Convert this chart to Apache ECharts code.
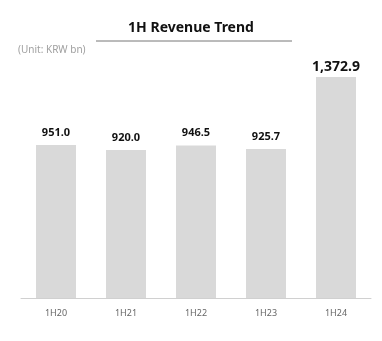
<!DOCTYPE html>
<html><head><meta charset="utf-8">
<script src="https://cdn.jsdelivr.net/npm/echarts@6/dist/echarts.min.js"></script>
<style>html,body{margin:0;padding:0;background:#fff}#c{width:382px;height:341px}</style>
</head><body><div id="c"></div>
<script>
const categories = ['1H20', '1H21', '1H22', '1H23', '1H24'];
const revenue = [951.0, 920.0, 946.5, 925.7, 1372.9];
const titleText = '1H Revenue Trend';
const unitText = '(Unit: KRW bn)';

const chart = echarts.init(document.getElementById('c'));
const fmt = v => v.toLocaleString('en-US', {minimumFractionDigits: 1, maximumFractionDigits: 1});
chart.setOption({
  animation: false,
  textStyle: {fontFamily: 'Noto Sans'},
  title: {text: titleText, left: 'center', top: 16,
    textStyle: {fontSize: 14, fontWeight: 'bold', color: '#111', fontFamily: 'Noto Sans'}},
  graphic: [
    {type: 'line', shape: {x1: 96, y1: 41, x2: 292, y2: 41}, style: {stroke: '#777', lineWidth: 1}},
    {type: 'text', left: 18, top: 45, style: {text: unitText, fill: '#a0a0a0', fontSize: 10, fontFamily: 'Noto Sans'}}
  ],
  grid: {left: 21, right: 11, top: 72.6, bottom: 43},
  xAxis: {type: 'category', data: categories,
    axisLine: {lineStyle: {color: '#d0d0d0'}}, axisTick: {show: false},
    axisLabel: {color: '#666', fontSize: 9, margin: 11}},
  yAxis: {type: 'value', min: 0, max: 1400, show: false, splitLine: {show: false}},
  series: [{type: 'bar', barWidth: 40,
    itemStyle: {color: '#d9d9d9'},
    data: revenue.map((v, i) => ({value: v,
      label: i === revenue.length - 1 ? {fontSize: 14, distance: 3} : {fontSize: 11, distance: 7}})),
    label: {show: true, position: 'top', fontWeight: 'bold', color: '#111',
      formatter: p => fmt(p.value)}
  }]
});
</script></body></html>
